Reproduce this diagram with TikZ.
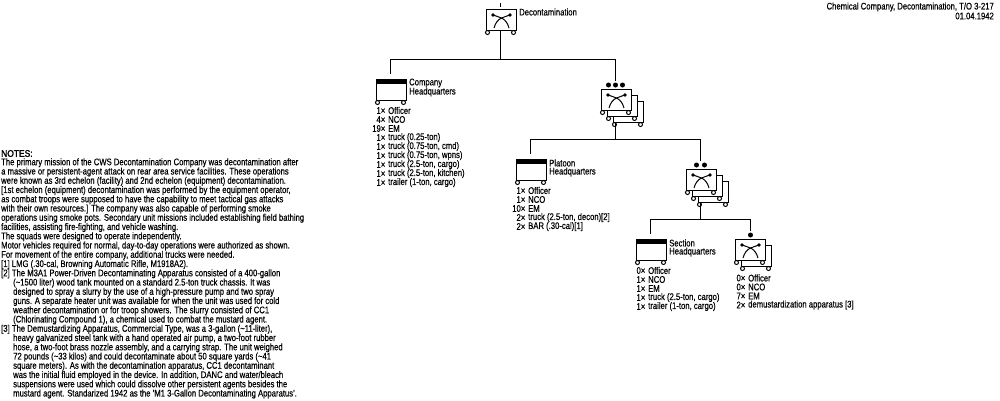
\documentclass[tikz,border=0pt]{standalone}
\usepackage{fontspec}
\setmainfont[FakeStretch=0.80,FakeBold=0.35]{Liberation Sans}
\newfontfamily\headfont[FakeStretch=0.88,FakeBold=1.8]{Liberation Sans}
\tikzset{
  line/.style={draw=black,line width=1pt},
  bodytext/.style={font=\fontsize{9.6pt}{9.6pt}\selectfont,inner sep=0pt,anchor=west,text=black},
  countcell/.style={font=\fontsize{9.6pt}{9.6pt}\selectfont,inner sep=0pt,anchor=east,text=black},
  titletext/.style={font=\fontsize{9.6pt}{9.6pt}\selectfont,inner sep=0pt,anchor=west,align=left,text=black},
  datetext/.style={font=\fontsize{9.6pt}{9.6pt}\selectfont,inner sep=0pt,anchor=east,text=black},
  framebox/.style={draw=black,line width=1pt,fill=white,minimum width=30pt,minimum height=21pt,inner sep=0pt,outer sep=0pt,anchor=north west},
  wheel/.style={circle,draw=black,line width=1pt,fill=white,minimum size=4pt,inner sep=0pt,outer sep=0pt},
  rankdot/.style={circle,fill=black,minimum size=5pt,inner sep=0pt},
  sprayer/.style={line width=1pt,draw=black},
}
% One vehicle frame with its two wheels, top-left corner at (#2,#3)
\newcommand{\vehicleframe}[3]{%
  \node[framebox] (#1) at (#2+0.5,#3+0.5) {};
  \node[wheel] (#1wl) at ([xshift=1pt,yshift=-2pt]#1.south west) {};
  \node[wheel] (#1wr) at ([xshift=-3pt,yshift=-2pt]#1.south east) {};
}
% Branch symbol of the decontamination arm, drawn on a frame
\newcommand{\armsymbol}[1]{%
  \path ([xshift=6.5pt,yshift=-5.5pt]#1.north west) node[circle,fill=black,minimum size=3.8pt,inner sep=0pt] (#1dl) {};
  \path ([xshift=23.5pt,yshift=-5.5pt]#1.north west) node[circle,fill=black,minimum size=3.8pt,inner sep=0pt] (#1dr) {};
  \draw[sprayer] (#1dl.center) .. controls ([xshift=6pt,yshift=-2.5pt]#1dl.center) and ([xshift=13pt,yshift=-2pt]#1dl.center) .. ([xshift=16pt,yshift=-13pt]#1dl.center);
  \draw[sprayer] (#1dr.center) .. controls ([xshift=-6pt,yshift=-2.5pt]#1dr.center) and ([xshift=-13pt,yshift=-2pt]#1dr.center) .. ([xshift=-16pt,yshift=-13pt]#1dr.center);
}
% Headquarters frame with its black band
\newcommand{\hqframe}[3]{%
  \vehicleframe{#1}{#2}{#3}
  \fill[black] (#1.north west) rectangle ([yshift=-4pt]#1.north east);
}
\begin{document}
\begin{tikzpicture}[x=1pt,y=-1pt]
\useasboundingbox (0,0) rectangle (1000,400);
\fill[white] (0,0) rectangle (1000,400);

% Company element
\vehicleframe{coy}{486}{9}
\armsymbol{coy}
\coordinate (coytop) at (500.5,3);
\coordinate (coystub) at (500.5,7);
\draw[line] (coytop) -- (coystub);
\node[titletext] (coyname) at (519,12) {Decontamination};

% Company headquarters
\hqframe{chq}{376}{79}
\node[titletext] (chqname1) at (409,83) {Company};
\node[titletext] (chqname2) at (409,92) {Headquarters};

% Platoon stack
\vehicleframe{pltc}{613}{101}
\vehicleframe{pltb}{607}{95}
\vehicleframe{plta}{601}{89}
\armsymbol{plta}
\node[rankdot] (pltr1) at (608.5,85) {};
\node[rankdot] (pltr2) at (615.5,85) {};
\node[rankdot] (pltr3) at (622.5,85) {};

% Platoon headquarters
\hqframe{phq}{516}{159}
\node[titletext] (phqname1) at (549,163) {Platoon};
\node[titletext] (phqname2) at (549,172) {Headquarters};

% Section stack
\vehicleframe{secc}{698}{181}
\vehicleframe{secb}{692}{175}
\vehicleframe{seca}{686}{169}
\armsymbol{seca}
\node[rankdot] (secr1) at (696.5,165) {};
\node[rankdot] (secr2) at (704.5,165) {};

% Section headquarters
\hqframe{shq}{636}{239}
\node[titletext] (shqname1) at (669,243) {Section};
\node[titletext] (shqname2) at (669,252) {Headquarters};

% Squad pair
\vehicleframe{sqdb}{741}{245}
\vehicleframe{sqda}{735}{239}
\armsymbol{sqda}
\node[rankdot] (sqdr) at (750.5,235) {};

% Connectors of the organisation tree
\coordinate (busa) at (500.5,59.5);
\coordinate (chqstub) at (390.5,74);
\coordinate (pltstub) at (615.5,81);
\draw[line] (coy.south -| busa) -- (busa);
\draw[line] (chqstub) |- (busa) -| (pltstub);
\coordinate (busb) at (615.5,139.5);
\coordinate (phqstub) at (530.5,154);
\coordinate (secstub) at (700.5,161);
\draw[line] (pltc.south -| busb) -- (busb);
\draw[line] (phqstub) |- (busb) -| (secstub);
\coordinate (busc) at (700.5,219.5);
\coordinate (shqstub) at (650.5,234);
\coordinate (sqdstub) at (750.5,231);
\draw[line] (secc.south -| busc) -- (busc);
\draw[line] (shqstub) |- (busc) -| (sqdstub);

% Personnel and equipment lists
\foreach \c/\t [count=\i] in {1×/Officer,4×/NCO,19×/EM,1×/truck (0.25-ton),{1×}/{truck (0.75-ton, cmd)},{1×}/{truck (0.75-ton, wpns)},{1×}/{truck (2.5-ton, cargo)},{1×}/{truck (2.5-ton, kitchen)},{1×}/{trailer (1-ton, cargo)}}{
  \node[countcell] (chqc\i) at (385.5,{110.5+9*(\i-1)}) {\c};
  \node[bodytext] (chqt\i) at (388,{110.5+9*(\i-1)}) {\t};
}
\foreach \c/\t [count=\i] in {1×/Officer,1×/NCO,10×/EM,{2×}/{truck (2.5-ton, decon)[2]},{2×}/{BAR (.30-cal)[1]}}{
  \node[countcell] (phqc\i) at (525.5,{190.5+9*(\i-1)}) {\c};
  \node[bodytext] (phqt\i) at (528,{190.5+9*(\i-1)}) {\t};
}
\foreach \c/\t [count=\i] in {0×/Officer,1×/NCO,1×/EM,{1×}/{truck (2.5-ton, cargo)},{1×}/{trailer (1-ton, cargo)}}{
  \node[countcell] (shqc\i) at (645.5,{270.5+9*(\i-1)}) {\c};
  \node[bodytext] (shqt\i) at (648,{270.5+9*(\i-1)}) {\t};
}
\foreach \c/\t [count=\i] in {0×/Officer,0×/NCO,7×/EM,{2×}/{demustardization apparatus [3]}}{
  \node[countcell] (sqdc\i) at (745.5,{278+9*(\i-1)}) {\c};
  \node[bodytext] (sqdt\i) at (748,{278+9*(\i-1)}) {\t};
}

% Title block
\node[datetext] (title) at (994,7) {Chemical Company, Decontamination, T/O 3-217};
\node[datetext] (date) at (994,16) {01.04.1942};

% Notes column
\node[bodytext,font=\headfont\fontsize{9.6pt}{9.6pt}\selectfont] (noteshead) at (1,153.5) {NOTES:};
\foreach \x/\t [count=\i] in {
 1/{The primary mission of the CWS Decontamination Company was decontamination after},
 1/{a massive or persistent-agent attack on rear area service facilities. These operations},
 1/{were known as 3rd echelon (facility) and 2nd echelon (equipment) decontamination.},
 1/{[1st echelon (equipment) decontamination was performed by the equipment operator,},
 1/{as combat troops were supposed to have the capability to meet tactical gas attacks},
 1/{with their own resources.] The company was also capable of performing smoke},
 1/{operations using smoke pots. Secondary unit missions included establishing field bathing},
 1/{facilities, assisting fire-fighting, and vehicle washing.},
 1/{The squads were designed to operate independently.},
 1/{Motor vehicles required for normal, day-to-day operations were authorized as shown.},
 1/{For movement of the entire company, additional trucks were needed.},
 1/{[1] LMG (.30-cal, Browning Automatic Rifle, M1918A2).},
 1/{[2] The M3A1 Power-Driven Decontaminating Apparatus consisted of a 400-gallon},
 13/{(\textasciitilde{}1500 liter) wood tank mounted on a standard 2.5-ton truck chassis. It was},
 13/{designed to spray a slurry by the use of a high-pressure pump and two spray},
 13/{guns. A separate heater unit was available for when the unit was used for cold},
 13/{weather decontamination or for troop showers. The slurry consisted of CC1},
 13/{(Chlorinating Compound 1), a chemical used to combat the mustard agent.},
 1/{[3] The Demustardizing Apparatus, Commercial Type, was a 3-gallon (\textasciitilde{}11-liter),},
 13/{heavy galvanized steel tank with a hand operated air pump, a two-foot rubber},
 13/{hose, a two-foot brass nozzle assembly, and a carrying strap. The unit weighed},
 13/{72 pounds (\textasciitilde{}33 kilos) and could decontaminate about 50 square yards (\textasciitilde{}41},
 13/{square meters). As with the decontamination apparatus, CC1 decontaminant},
 13/{was the initial fluid employed in the device. In addition, DANC and water/bleach},
 13/{suspensions were used which could dissolve other persistent agents besides the},
 13/{mustard agent. Standarized 1942 as the 'M1 3-Gallon Decontaminating Apparatus'.}
}{
  \node[bodytext] (note\i) at (\x,{153.5+9.25*\i}) {\t};
}
\end{tikzpicture}
\end{document}
